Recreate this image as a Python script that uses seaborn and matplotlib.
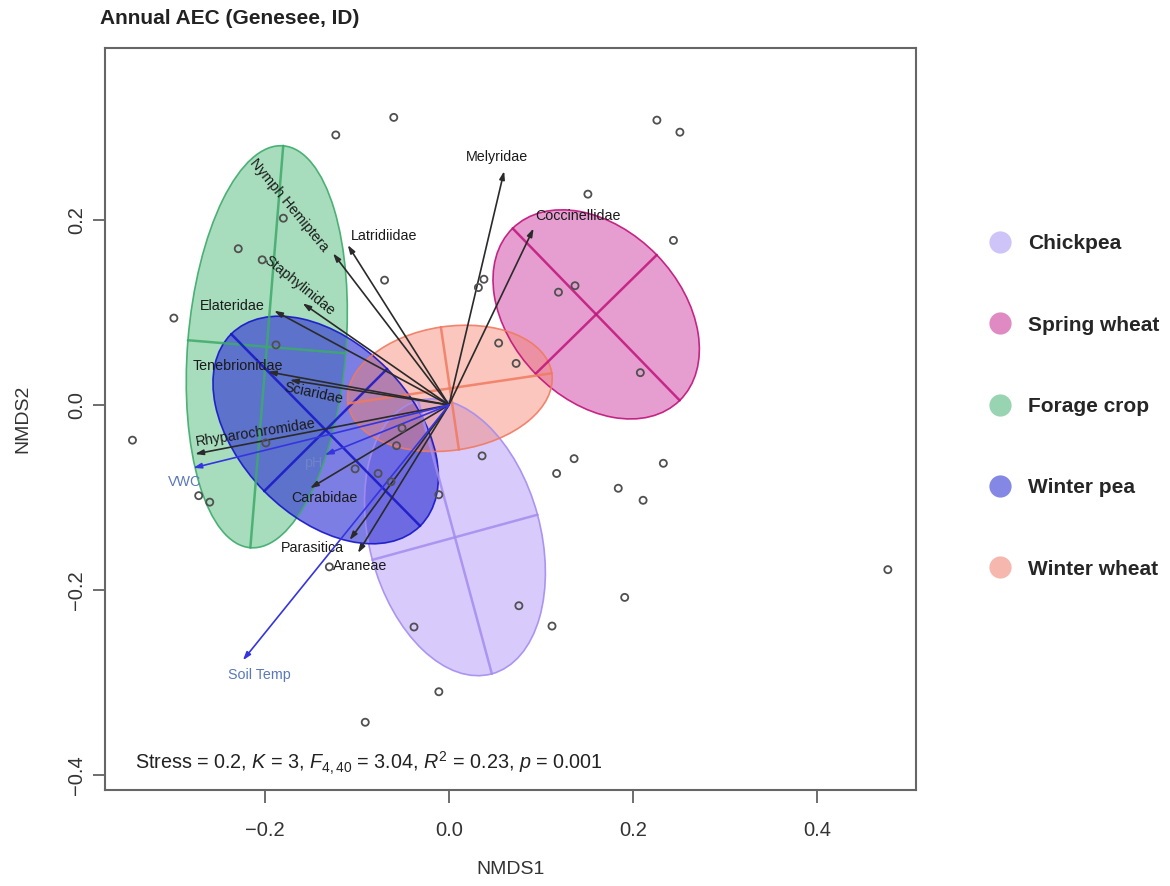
import numpy as np
import matplotlib
matplotlib.use("Agg")
import matplotlib.pyplot as plt
from matplotlib.patches import Ellipse
from matplotlib.lines import Line2D
import seaborn as sns
import pandas as pd

# ---------------- data ----------------
site_x = [-0.123, -0.060, 0.226, 0.251, 0.151, 0.244, -0.070, 0.032, 0.038, 0.119,
          0.137, 0.054, 0.073, 0.208, -0.180, -0.229, -0.203, -0.299, -0.188, -0.344,
          -0.199, -0.272, -0.260, -0.102, -0.077, -0.063, -0.057, -0.051, -0.011, 0.036,
          0.117, 0.136, 0.233, 0.184, 0.211, 0.477, 0.191, 0.112, 0.076, -0.038,
          -0.011, -0.091, -0.130]
site_y = [0.292, 0.311, 0.308, 0.295, 0.228, 0.178, 0.135, 0.127, 0.136, 0.122,
          0.129, 0.067, 0.045, 0.035, 0.202, 0.169, 0.157, 0.094, 0.065, -0.038,
          -0.041, -0.098, -0.105, -0.069, -0.074, -0.083, -0.044, -0.025, -0.097, -0.055,
          -0.074, -0.058, -0.063, -0.090, -0.103, -0.178, -0.208, -0.239, -0.217, -0.240,
          -0.310, -0.343, -0.175]

groups = ["Chickpea", "Spring wheat", "Forage crop", "Winter pea", "Winter wheat"]
ell_cx = [0.0065, 0.160, -0.198, -0.134, 0.001]
ell_cy = [-0.143, 0.098, 0.063, -0.027, 0.018]
ell_semi_a = [0.153, 0.130, 0.218, 0.146, 0.112]
ell_semi_b = [0.093, 0.092, 0.086, 0.094, 0.067]
ell_angle = [105.2, -45.7, 85.3, -45.3, 8.4]

fill_cols = ["#AA8CFA", "#C8289A", "#3CB46E", "#3236D4", "#F5826E"]
fill_alpha = [0.45, 0.45, 0.45, 0.64, 0.45]
line_cols = ["#A48CF0", "#C0137A", "#3DAA6A", "#1515C8", "#F07A60"]
legend_cols = ["#CFC4F8", "#E08AC4", "#98D4B2", "#8488E4", "#F6B8AE"]
draw_order = [2, 0, 3, 1, 4]

sp_names = ["Melyridae", "Coccinellidae", "Latridiidae", "Nymph Hemiptera", "Staphylinidae",
            "Elateridae", "Tenebrionidae", "Sciaridae", "Rhyparochromidae", "Carabidae",
            "Parasitica", "Araneae"]
sp_x = [0.060, 0.092, -0.110, -0.126, -0.159, -0.190, -0.197, -0.173, -0.276, -0.151, -0.108, -0.099]
sp_y = [0.253, 0.191, 0.173, 0.164, 0.110, 0.102, 0.036, 0.027, -0.053, -0.090, -0.146, -0.160]
sp_lab_x = [0.052, 0.140, -0.071, -0.174, -0.163, -0.236, -0.229, -0.147, -0.210, -0.135, -0.148, -0.096]
sp_lab_y = [0.268, 0.204, 0.183, 0.216, 0.129, 0.107, 0.042, 0.013, -0.030, -0.100, -0.155, -0.174]
sp_lab_rot = [0, 0, 0, -50.6, -38.9, 0, 0, -12, 8.9, 0, 0, 0]

env_names = ["VWC", "Soil Temp", "pH"]
env_x = [-0.278, -0.224, -0.135]
env_y = [-0.068, -0.276, -0.054]
env_lab_x = [-0.287, -0.2065, -0.148]
env_lab_y = [-0.083, -0.292, -0.063]

stress_text = r"Stress = 0.2, $K$ = 3, $F_{4,40}$ = 3.04, $R^2$ = 0.23, $p$ = 0.001"

# ---------------- style ----------------
sns.set_theme(style="white")
plt.rcParams["font.family"] = ["Liberation Sans", "DejaVu Sans"]
plt.rcParams["mathtext.fontset"] = "custom"
plt.rcParams["mathtext.rm"] = "Liberation Sans"
plt.rcParams["mathtext.it"] = "Liberation Sans:italic"

fig = plt.figure(figsize=(11.7, 8.86), dpi=100)
ax = fig.add_axes([0.0897, 0.1084, 0.6932, 0.8374])
ax.set_xlim(-0.3739, 0.5076)
ax.set_ylim(-0.4162, 0.386)

# ellipses
for i in draw_order:
    e = Ellipse((ell_cx[i], ell_cy[i]), 2 * ell_semi_a[i], 2 * ell_semi_b[i],
                angle=ell_angle[i], facecolor=fill_cols[i], alpha=fill_alpha[i],
                edgecolor="none", zorder=1 + i * 0.01)
    ax.add_patch(e)
    e2 = Ellipse((ell_cx[i], ell_cy[i]), 2 * ell_semi_a[i], 2 * ell_semi_b[i],
                 angle=ell_angle[i], facecolor="none", edgecolor=line_cols[i],
                 lw=1.2, alpha=0.9, zorder=1.5)
    ax.add_patch(e2)
    t = np.deg2rad(ell_angle[i])
    for s, ang in ((ell_semi_a[i], t), (ell_semi_b[i], t + np.pi / 2)):
        dx, dy = s * np.cos(ang), s * np.sin(ang)
        ax.plot([ell_cx[i] - dx, ell_cx[i] + dx], [ell_cy[i] - dy, ell_cy[i] + dy],
                color=line_cols[i], lw=1.8, alpha=0.85, zorder=1.6)

# species arrows
for n, x, y, lx, ly, r in zip(sp_names, sp_x, sp_y, sp_lab_x, sp_lab_y, sp_lab_rot):
    ax.annotate("", xy=(x, y), xytext=(0, 0),
                arrowprops=dict(arrowstyle="-|>,head_length=0.4,head_width=0.13",
                                color="#2a2a2a", lw=1.2, shrinkA=0, shrinkB=0),
                zorder=3)
    ax.text(lx, ly, n, rotation=r, ha="center", va="center", fontsize=10.3,
            color="#1a1a1a", zorder=4)

# environment arrows
for n, x, y, lx, ly in zip(env_names, env_x, env_y, env_lab_x, env_lab_y):
    ax.annotate("", xy=(x, y), xytext=(0, 0),
                arrowprops=dict(arrowstyle="-|>,head_length=0.4,head_width=0.13",
                                color="#3535E0", lw=1.2, shrinkA=0, shrinkB=0),
                zorder=3)
    ax.text(lx, ly, n, ha="center", va="center", fontsize=10.3,
            color="#5A78BC" if n != "pH" else "#7E90C8", alpha=1 if n != "pH" else 0.6,
            zorder=4)

# site points
df = pd.DataFrame({"NMDS1": site_x, "NMDS2": site_y})
sns.scatterplot(data=df, x="NMDS1", y="NMDS2", ax=ax, s=26, facecolor="none",
                edgecolor="#505050", linewidth=1.3, zorder=5, legend=False)

ax.text(-0.341, -0.387, stress_text, fontsize=14.2, color="#222222", ha="left", va="center")

# axes styling
ax.set_xticks([-0.2, 0.0, 0.2, 0.4])
ax.set_yticks([-0.4, -0.2, 0.0, 0.2])
ax.set_xticklabels(["\u22120.2", "0.0", "0.2", "0.4"])
ax.set_yticklabels(["\u22120.4", "\u22120.2", "0.0", "0.2"], rotation=90, va="center")
ax.tick_params(axis="both", which="major", direction="out", length=9, width=1.2,
               color="#555555", labelsize=14.5, labelcolor="#333333",
               bottom=True, left=True)
ax.tick_params(axis="x", pad=13.5)
ax.tick_params(axis="y", pad=4.5)
for sp in ax.spines.values():
    sp.set_color("#666666")
    sp.set_linewidth(1.5)
ax.set_xlabel("NMDS1", fontsize=14, color="#333333", labelpad=15)
ax.set_ylabel("NMDS2", fontsize=14, color="#333333", labelpad=26)

fig.text(100 / 1170, 1 - 18 / 886, "Annual AEC (Genesee, ID)", fontsize=15,
         fontweight="bold", color="#222222", ha="left", va="center")

handles = [Line2D([], [], marker="o", ls="", ms=16, mfc=c, mec="none") for c in legend_cols]
fig.legend(handles, groups, loc="center left", bbox_to_anchor=(981.3 / 1170, 1 - 406.5 / 886),
           frameon=False, prop={"weight": "bold", "size": 15},
           handlelength=1.0, handletextpad=0.85, labelspacing=2.99, borderaxespad=0)

fig.savefig("out.png", dpi=100)
